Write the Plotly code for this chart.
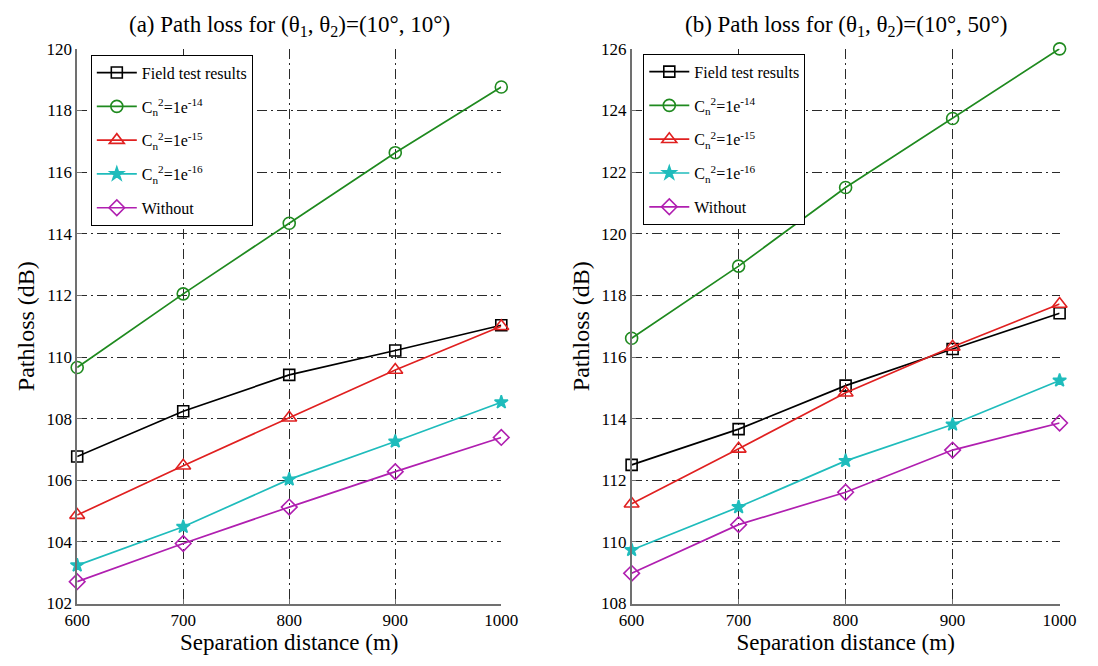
import plotly.graph_objects as go

# Separation distance (m)
distance = [600, 700, 800, 900, 1000]

# (a) theta1 = 10 deg, theta2 = 10 deg
a_field = [106.77, 108.24, 109.42, 110.21, 111.03]
a_cn14 = [109.66, 112.05, 114.34, 116.63, 118.76]
a_cn15 = [104.87, 106.47, 108.03, 109.58, 111.00]
a_cn16 = [103.24, 104.49, 106.03, 107.26, 108.53]
a_without = [102.71, 103.95, 105.13, 106.28, 107.39]

# (b) theta1 = 10 deg, theta2 = 50 deg
b_field = [112.50, 113.66, 115.07, 116.26, 117.42]
b_cn14 = [116.61, 118.95, 121.50, 123.74, 126.00]
b_cn15 = [111.24, 113.02, 114.84, 116.33, 117.72]
b_cn16 = [109.74, 111.13, 112.63, 113.81, 115.24]
b_without = [108.98, 110.56, 111.61, 112.98, 113.86]

series_names = [
    "Field test results",
    "C<sub>n</sub><sup>2</sup>=1e<sup>-14</sup>",
    "C<sub>n</sub><sup>2</sup>=1e<sup>-15</sup>",
    "C<sub>n</sub><sup>2</sup>=1e<sup>-16</sup>",
    "Without",
]
colors = ["#000000", "#1f8a1f", "#e02020", "#1fbcbc", "#b01fb0"]
symbols = ["square-open", "circle-open", "triangle-up-open", "star", "diamond-open"]
sizes = [11, 12, 13, 10, 12]

FONT = "Liberation Serif"

fig = go.Figure()

panels = [
    ("x", "y", "legend", "a", [a_field, a_cn14, a_cn15, a_cn16, a_without]),
    ("x2", "y2", "legend2", "b", [b_field, b_cn14, b_cn15, b_cn16, b_without]),
]
for xa, ya, lg, tag, data in panels:
    for i, (name, vals, col, sym, sz) in enumerate(zip(series_names, data, colors, symbols, sizes)):
        fig.add_trace(go.Scatter(
            x=distance, y=vals, name=name, mode="lines+markers",
            xaxis=xa, yaxis=ya, legend=lg, legendgroup=f"{tag}{i}",
            cliponaxis=False,
            line=dict(color=col, width=1.7),
            marker=dict(symbol=sym, size=sz, color=col,
                        line=dict(color=col, width=1.6)),
        ))

grid_dash = "10px,4px,2px,4px"
axis_common = dict(
    showline=True, linecolor="#707070", linewidth=1.5, mirror=False,
    showgrid=True, gridcolor="#2a2a2a", gridwidth=1, griddash=grid_dash,
    ticks="inside", ticklen=5, tickcolor="#707070",
    zeroline=False,
    tickfont=dict(family=FONT, size=17, color="#000"),
)

def xaxis(domain, anchor):
    return dict(axis_common, domain=domain, anchor=anchor,
                range=[600, 1000], tickvals=[600, 700, 800, 900, 1000],
                title=dict(text="Separation distance (m)", standoff=3,
                           font=dict(family=FONT, size=23, color="#000")))

def yaxis(domain, anchor, rng):
    return dict(axis_common, domain=domain, anchor=anchor,
                range=rng, dtick=2,
                title=dict(text="Pathloss (dB)", standoff=5,
                           font=dict(family=FONT, size=24, color="#000")))

ydom = [1 - 612 / 666, 1 - 41 / 666]
legend_common = dict(
    bgcolor="white", bordercolor="#000", borderwidth=1,
    font=dict(family=FONT, size=16, color="#000"),
    xanchor="left", yanchor="top", itemwidth=40,
    tracegroupgap=10,
)

fig.update_layout(
    width=1098, height=666,
    margin=dict(l=0, r=0, t=0, b=0),
    paper_bgcolor="white", plot_bgcolor="white",
    font=dict(family=FONT),
    xaxis=xaxis([66 / 1098, 502 / 1098], "y"),
    yaxis=yaxis(ydom, "x", [102, 120]),
    xaxis2=xaxis([636 / 1098, 1076 / 1098], "y2"),
    yaxis2=yaxis(ydom, "x2", [108, 126]),
    legend=dict(legend_common, x=80 / 1098, y=1 - 47 / 666),
    legend2=dict(legend_common, x=648 / 1098, y=1 - 46 / 666),
    annotations=[
        dict(text="(a) Path loss for (θ<sub>1</sub>, θ<sub>2</sub>)=(10°, 10°)",
             x=(66 + 502) / 2 / 1098, y=1 - 17 / 666, xref="paper", yref="paper",
             showarrow=False, xanchor="center", yanchor="middle",
             font=dict(family=FONT, size=23, color="#000")),
        dict(text="(b) Path loss for (θ<sub>1</sub>, θ<sub>2</sub>)=(10°, 50°)",
             x=(636 + 1076) / 2 / 1098, y=1 - 17 / 666, xref="paper", yref="paper",
             showarrow=False, xanchor="center", yanchor="middle",
             font=dict(family=FONT, size=23, color="#000")),
    ],
)

fig.write_html("out.html")
